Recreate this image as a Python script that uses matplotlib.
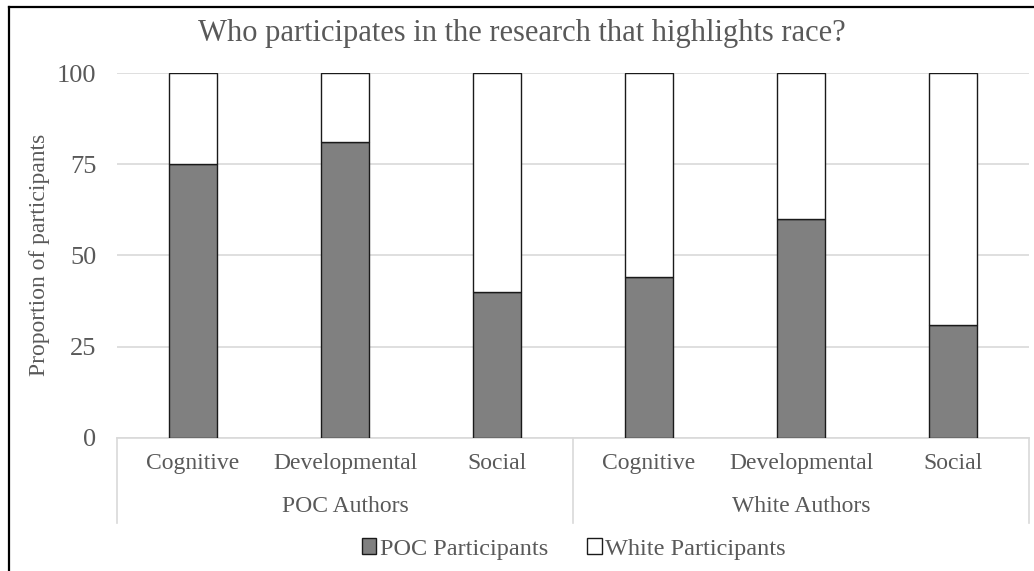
import matplotlib
matplotlib.use("Agg")
import matplotlib.pyplot as plt
from matplotlib.patches import Patch
from matplotlib.lines import Line2D
import matplotlib.transforms as mtransforms
import numpy as np

# Data
groups = ["POC Authors", "White Authors"]
fields = ["Cognitive", "Developmental", "Social"]
poc_participants = [75, 81, 40, 44, 60, 31]
white_participants = [25, 19, 60, 56, 40, 69]
yticks = [0, 25, 50, 75, 100]

plt.rcParams['font.family'] = ['Liberation Serif', 'DejaVu Serif']
text_color = "#595959"
grid_color = "#d9d9d9"

W, H = 1034, 571
fig = plt.figure(figsize=(W / 100, H / 100), dpi=100)
left, right = 117 / W, 1029 / W
bottom, top = (H - 437.7) / H, (H - 73) / H
ax = fig.add_axes([left, bottom, right - left, top - bottom])

n = len(poc_participants)
x = np.arange(n)
bw = 0.316
ax.bar(x, poc_participants, width=bw, color="#808080", edgecolor="#1a1a1a",
       linewidth=1.0, zorder=3, label="POC Participants")
ax.bar(x, white_participants, width=bw, bottom=poc_participants, color="white",
       edgecolor="#1a1a1a", linewidth=1.0, zorder=3, label="White Participants")

ax.set_xlim(-0.5, n - 0.5)
ax.set_ylim(0, 100)
ax.set_yticks(yticks)
ax.set_yticklabels([str(v) for v in yticks], fontsize=19, color=text_color)
ax.tick_params(axis='y', length=0, pad=15)
ax.set_xticks([])
ax.grid(axis='y', color=grid_color, linewidth=1.2, zorder=0)
for s in ["top", "right", "left"]:
    ax.spines[s].set_visible(False)
ax.spines["bottom"].set_color(grid_color)
ax.spines["bottom"].set_linewidth(1.2)

ax.set_ylabel("Proportion of participants", fontsize=17, color=text_color, labelpad=5)

trans = mtransforms.blended_transform_factory(ax.transData, ax.transAxes)
# category labels
labels = fields * len(groups)
for i, lab in enumerate(labels):
    ax.text(i, -0.07, lab, transform=trans, ha="center", va="center",
            fontsize=17, color=text_color)
# group labels
for g, name in enumerate(groups):
    cx = g * len(fields) + (len(fields) - 1) / 2
    ax.text(cx, -0.19, name, transform=trans, ha="center", va="center",
            fontsize=17, color=text_color)
# separators
for sx in [-0.5, 2.5, 5.5]:
    ax.add_line(Line2D([sx, sx], [0, -0.234], transform=trans, color=grid_color,
                       linewidth=1.2, clip_on=False))

fig.text(522 / W, 1 - 34 / H,
         "Who participates in the research that highlights race?",
         ha="center", va="center", fontsize=22, color=text_color)

handles = [Patch(facecolor="#808080", edgecolor="#1a1a1a", linewidth=1.0),
           Patch(facecolor="white", edgecolor="#1a1a1a", linewidth=1.0)]
fig.legend(handles, ["POC Participants", "White Participants"], loc="center",
           bbox_to_anchor=(574 / W, 1 - 549 / H), ncol=2, frameon=False,
           fontsize=17.5, labelcolor=text_color, handlelength=0.6, handleheight=0.6,
           handletextpad=0.15, columnspacing=1.6)

# outer frame (left and top edges visible)
fig.add_artist(Line2D([9 / W, 9 / W], [0, 1 - 7 / H], transform=fig.transFigure,
                      color="black", linewidth=1.6))
fig.add_artist(Line2D([9 / W, 1], [1 - 7 / H, 1 - 7 / H], transform=fig.transFigure,
                      color="black", linewidth=1.6))

fig.savefig("out.png", dpi=100, facecolor="white")
